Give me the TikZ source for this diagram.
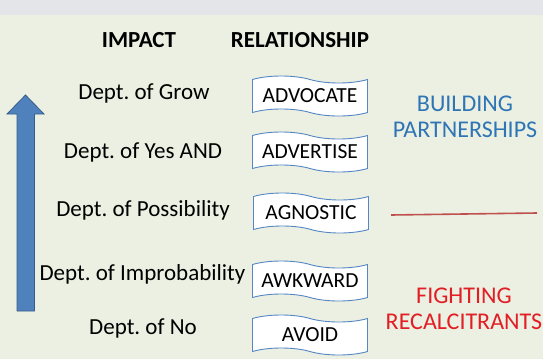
\documentclass[tikz,border=0pt]{standalone}
\usepackage{fontspec}
\setmainfont{Carlito}
\usetikzlibrary{shapes.symbols}
\definecolor{bg}{RGB}{236,240,226}
\definecolor{band}{RGB}{228,229,232}
\definecolor{arrowfill}{RGB}{79,129,189}
\definecolor{arrowedge}{RGB}{56,93,138}
\definecolor{boxedge}{RGB}{84,135,196}
\definecolor{partblue}{RGB}{46,117,182}
\definecolor{fightred}{RGB}{226,30,36}
\definecolor{divider}{RGB}{192,80,77}
\tikzset{
  head/.style={font=\fontsize{23}{26}\selectfont\bfseries, text=black},
  dept/.style={font=\fontsize{23}{26}\selectfont, text=black},
  relbox/.style={tape, draw=boxedge, fill=white, line width=0.9pt,
    tape bend top=out and in, tape bend bottom=out and in, tape bend height=7pt,
    minimum width=115pt, minimum height=40pt, inner sep=0pt,
    font=\fontsize{21.5}{24}\selectfont, text=black},
  sidetext/.style={font=\fontsize{24}{26.5}\selectfont, align=center},
}
\begin{document}
\frenchspacing
\begin{tikzpicture}[x=1pt,y=-1pt]
\useasboundingbox (0,0) rectangle (543,359);
\fill[bg] (0,0) rectangle (543,359);
\fill[band] (0,0) rectangle (543,15);
% arrow
\filldraw[fill=arrowfill, draw=arrowedge, line width=0.8pt]
  (17,311) -- (17,114) -- (7,114) -- (25.5,95) -- (44,114) -- (34.5,114) -- (34.5,311) -- cycle;
% headings
\node[head] (himpact) at (139,40) {IMPACT};
\node[head] (hrel) at (300,40) {RELATIONSHIP};
% departments
\node[dept] (d1) at (144,93) {Dept. of Grow};
\node[dept] (d2) at (143,152) {Dept. of Yes AND};
\node[dept] (d3) at (143,210) {Dept. of Possibility};
\node[dept] (d4) at (142.5,274) {Dept. of Improbability};
\node[dept] (d5) at (143,328) {Dept. of No};
% relationship boxes
\node[relbox] (r1) at (310,96) {ADVOCATE};
\node[relbox] (r2) at (310,152) {ADVERTISE};
\node[relbox] (r3) at (311,213) {AGNOSTIC};
\node[relbox] (r4) at (310,281) {AWKWARD};
\node[relbox] (r5) at (310,335) {AVOID};
% right side
\node[sidetext, text=partblue] (bp) at (465,117) {BUILDING\\PARTNERSHIPS};
\node[sidetext, text=fightred] (fr) at (464,309) {FIGHTING\\RECALCITRANTS};
\coordinate (la) at (391,215);
\coordinate (lb) at (537,213);
\draw[divider, line width=1.6pt] (la) -- (lb);
\end{tikzpicture}
\end{document}
